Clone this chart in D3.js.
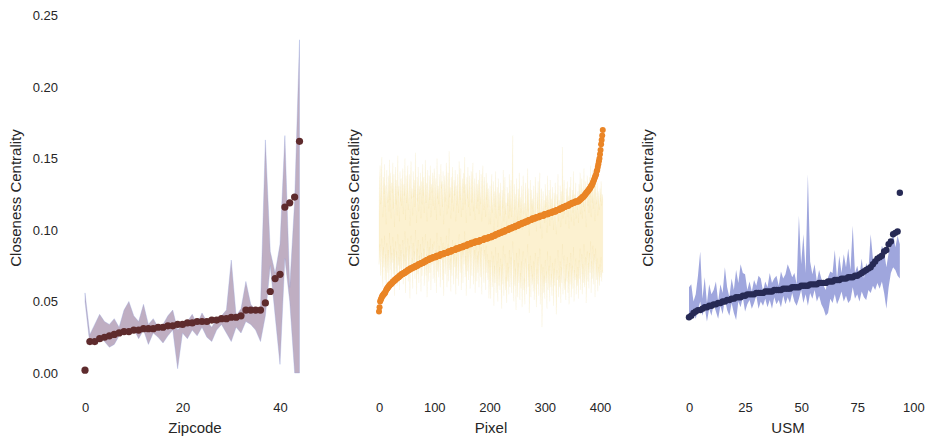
<!DOCTYPE html>
<html>
<head>
<meta charset="utf-8">
<script src="https://cdn.jsdelivr.net/npm/d3@7"></script>
<style>
  body { margin: 0; background: #ffffff; }
  svg text { font-family: "Liberation Sans", Arial, Helvetica, sans-serif; }
</style>
</head>
<body>
<svg id="chart" width="925" height="444"></svg>
<script>
// ---- shared axis ----
const yTicks = [0, 0.05, 0.10, 0.15, 0.20, 0.25];
const yLabel = "Closeness Centrality";

// ---- Zipcode ----
const zipTicks = [0, 20, 40];
const zipValues = [0.002, 0.022, 0.022, 0.024, 0.025, 0.026, 0.027, 0.028, 0.029, 0.029,
  0.030, 0.030, 0.031, 0.031, 0.031, 0.032, 0.032, 0.033, 0.033, 0.034,
  0.034, 0.035, 0.035, 0.036, 0.036, 0.036, 0.037, 0.037, 0.038, 0.038,
  0.039, 0.039, 0.040, 0.044, 0.044, 0.044, 0.044, 0.049, 0.057, 0.066,
  0.069, 0.116, 0.119, 0.123, 0.162];
const zipLow = [0.050, 0.020, 0.024, 0.026, 0.022, 0.018, 0.020, 0.026, 0.030, 0.028,
  0.031, 0.024, 0.030, 0.020, 0.028, 0.025, 0.021, 0.026, 0.030, 0.003,
  0.028, 0.024, 0.030, 0.026, 0.032, 0.025, 0.022, 0.030, 0.034, 0.028,
  0.022, 0.032, 0.028, 0.036, 0.034, 0.030, 0.022, 0.040, 0.075, 0.040,
  0.006, 0.080, 0.050, 0.000, 0.000];
const zipHigh = [0.056, 0.027, 0.034, 0.041, 0.036, 0.034, 0.038, 0.032, 0.044, 0.050,
  0.040, 0.036, 0.048, 0.034, 0.038, 0.032, 0.034, 0.040, 0.044, 0.030,
  0.034, 0.036, 0.041, 0.034, 0.042, 0.036, 0.032, 0.038, 0.040, 0.044,
  0.079, 0.040, 0.045, 0.064, 0.048, 0.044, 0.046, 0.163, 0.085, 0.070,
  0.090, 0.166, 0.060, 0.120, 0.233];

// ---- Pixel ----
const pixelTicks = [0, 100, 200, 300, 400];
const pixelValues = [
  0.043, 0.046, 0.050, 0.051, 0.052, 0.053, 0.054, 0.054, 0.055, 0.055, 0.056, 0.056, 0.057, 0.058, 0.059, 0.059, 0.060, 0.060, 0.061, 0.061,
  0.062, 0.062, 0.062, 0.063, 0.063, 0.064, 0.064, 0.064, 0.065, 0.065, 0.065, 0.066, 0.066, 0.066, 0.067, 0.067, 0.067, 0.068, 0.068, 0.068,
  0.069, 0.069, 0.069, 0.069, 0.070, 0.070, 0.070, 0.070, 0.071, 0.071, 0.071, 0.071, 0.072, 0.072, 0.072, 0.072, 0.073, 0.073, 0.073, 0.073,
  0.073, 0.074, 0.074, 0.074, 0.074, 0.074, 0.075, 0.075, 0.075, 0.075, 0.075, 0.076, 0.076, 0.076, 0.076, 0.076, 0.077, 0.077, 0.077, 0.077,
  0.077, 0.078, 0.078, 0.078, 0.078, 0.078, 0.079, 0.079, 0.079, 0.079, 0.079, 0.080, 0.080, 0.080, 0.080, 0.080, 0.080, 0.081, 0.081, 0.081,
  0.081, 0.081, 0.081, 0.081, 0.082, 0.082, 0.082, 0.082, 0.082, 0.082, 0.082, 0.083, 0.083, 0.083, 0.083, 0.083, 0.083, 0.083, 0.084, 0.084,
  0.084, 0.084, 0.084, 0.084, 0.084, 0.085, 0.085, 0.085, 0.085, 0.085, 0.085, 0.085, 0.086, 0.086, 0.086, 0.086, 0.086, 0.086, 0.086, 0.087,
  0.087, 0.087, 0.087, 0.087, 0.087, 0.087, 0.088, 0.088, 0.088, 0.088, 0.088, 0.088, 0.088, 0.089, 0.089, 0.089, 0.089, 0.089, 0.089, 0.089,
  0.090, 0.090, 0.090, 0.090, 0.090, 0.090, 0.090, 0.091, 0.091, 0.091, 0.091, 0.091, 0.091, 0.091, 0.092, 0.092, 0.092, 0.092, 0.092, 0.092,
  0.092, 0.092, 0.092, 0.093, 0.093, 0.093, 0.093, 0.093, 0.093, 0.093, 0.094, 0.094, 0.094, 0.094, 0.094, 0.094, 0.094, 0.094, 0.095, 0.095,
  0.095, 0.095, 0.095, 0.095, 0.095, 0.096, 0.096, 0.096, 0.096, 0.096, 0.096, 0.097, 0.097, 0.097, 0.097, 0.097, 0.097, 0.098, 0.098, 0.098,
  0.098, 0.098, 0.098, 0.099, 0.099, 0.099, 0.099, 0.099, 0.099, 0.100, 0.100, 0.100, 0.100, 0.100, 0.100, 0.101, 0.101, 0.101, 0.101, 0.101,
  0.101, 0.102, 0.102, 0.102, 0.102, 0.102, 0.102, 0.103, 0.103, 0.103, 0.103, 0.103, 0.103, 0.104, 0.104, 0.104, 0.104, 0.104, 0.104, 0.105,
  0.105, 0.105, 0.105, 0.105, 0.105, 0.106, 0.106, 0.106, 0.106, 0.106, 0.106, 0.107, 0.107, 0.107, 0.107, 0.107, 0.107, 0.108, 0.108, 0.108,
  0.108, 0.108, 0.108, 0.108, 0.109, 0.109, 0.109, 0.109, 0.109, 0.109, 0.109, 0.110, 0.110, 0.110, 0.110, 0.110, 0.110, 0.110, 0.110, 0.111,
  0.111, 0.111, 0.111, 0.111, 0.111, 0.111, 0.111, 0.112, 0.112, 0.112, 0.112, 0.112, 0.112, 0.112, 0.113, 0.113, 0.113, 0.113, 0.113, 0.113,
  0.113, 0.114, 0.114, 0.114, 0.114, 0.114, 0.114, 0.115, 0.115, 0.115, 0.115, 0.115, 0.115, 0.116, 0.116, 0.116, 0.116, 0.116, 0.117, 0.117,
  0.117, 0.117, 0.117, 0.117, 0.118, 0.118, 0.118, 0.118, 0.118, 0.119, 0.119, 0.119, 0.119, 0.119, 0.119, 0.120, 0.120, 0.120, 0.120, 0.120,
  0.120, 0.120, 0.121, 0.121, 0.121, 0.122, 0.122, 0.122, 0.123, 0.123, 0.123, 0.124, 0.124, 0.125, 0.125, 0.126, 0.126, 0.127, 0.127, 0.128,
  0.128, 0.129, 0.129, 0.130, 0.131, 0.131, 0.132, 0.133, 0.134, 0.135, 0.136, 0.137, 0.138, 0.139, 0.141, 0.142, 0.144, 0.146, 0.148, 0.150,
  0.153, 0.156, 0.160, 0.163, 0.166, 0.170];
const pixelLow = [
  0.076, 0.082, 0.090, 0.068, 0.079, 0.094, 0.071, 0.060, 0.088, 0.074, 0.096, 0.065, 0.083, 0.057, 0.091, 0.078, 0.070, 0.086, 0.062, 0.098,
  0.072, 0.089, 0.063, 0.084, 0.077, 0.095, 0.069, 0.087, 0.054, 0.080, 0.092, 0.066, 0.085, 0.061, 0.097, 0.075, 0.081, 0.058, 0.090, 0.073,
  0.086, 0.067, 0.078, 0.093, 0.062, 0.083, 0.074, 0.099, 0.056, 0.088, 0.070, 0.081, 0.094, 0.064, 0.076, 0.089, 0.052, 0.084, 0.096, 0.071,
  0.080, 0.059, 0.091, 0.073, 0.085, 0.066, 0.100, 0.077, 0.055, 0.087, 0.069, 0.093, 0.063, 0.082, 0.075, 0.090, 0.057, 0.084, 0.068, 0.095,
  0.074, 0.087, 0.061, 0.080, 0.097, 0.068, 0.083, 0.053, 0.092, 0.077, 0.064, 0.088, 0.070, 0.094, 0.058, 0.082, 0.076, 0.090, 0.066, 0.085,
  0.092, 0.063, 0.078, 0.086, 0.056, 0.098, 0.071, 0.081, 0.067, 0.089, 0.075, 0.060, 0.095, 0.079, 0.084, 0.065, 0.091, 0.054, 0.077, 0.088,
  0.069, 0.083, 0.096, 0.060, 0.076, 0.090, 0.064, 0.101, 0.072, 0.080, 0.057, 0.087, 0.068, 0.093, 0.078, 0.062, 0.085, 0.074, 0.091, 0.055,
  0.081, 0.066, 0.089, 0.075, 0.061, 0.097, 0.084, 0.070, 0.092, 0.058, 0.079, 0.086, 0.063, 0.090, 0.076, 0.099, 0.067, 0.082, 0.054, 0.087,
  0.071, 0.093, 0.065, 0.080, 0.088, 0.059, 0.077, 0.090, 0.068, 0.083, 0.095, 0.062, 0.073, 0.086, 0.056, 0.078, 0.089, 0.064, 0.082, 0.070,
  0.085, 0.060, 0.091, 0.076, 0.067, 0.088, 0.055, 0.081, 0.094, 0.072, 0.063, 0.086, 0.078, 0.058, 0.089, 0.070, 0.083, 0.065, 0.079, 0.052,
  0.066, 0.079, 0.052, 0.073, 0.085, 0.060, 0.069, 0.082, 0.047, 0.075, 0.063, 0.088, 0.056, 0.071, 0.078, 0.050, 0.084, 0.061, 0.074, 0.058,
  0.080, 0.068, 0.045, 0.076, 0.062, 0.089, 0.054, 0.072, 0.083, 0.058, 0.067, 0.049, 0.077, 0.064, 0.074, 0.055, 0.086, 0.060, 0.070, 0.081,
  0.056, 0.075, 0.092, 0.065, 0.050, 0.079, 0.061, 0.073, 0.044, 0.084, 0.067, 0.053, 0.077, 0.063, 0.087, 0.051, 0.070, 0.059, 0.078, 0.046,
  0.071, 0.085, 0.058, 0.066, 0.048, 0.080, 0.073, 0.055, 0.068, 0.090, 0.060, 0.076, 0.042, 0.064, 0.082, 0.053, 0.075, 0.062, 0.069, 0.057,
  0.078, 0.051, 0.067, 0.084, 0.059, 0.046, 0.073, 0.062, 0.081, 0.054, 0.070, 0.087, 0.048, 0.065, 0.076, 0.032, 0.061, 0.074, 0.056, 0.068,
  0.052, 0.079, 0.063, 0.071, 0.045, 0.085, 0.058, 0.066, 0.075, 0.050, 0.082, 0.060, 0.069, 0.054, 0.077, 0.064, 0.047, 0.073, 0.061, 0.080,
  0.057, 0.041, 0.072, 0.065, 0.086, 0.053, 0.068, 0.060, 0.078, 0.049, 0.074, 0.063, 0.090, 0.055, 0.070, 0.082, 0.058, 0.066, 0.051, 0.076,
  0.064, 0.081, 0.056, 0.071, 0.048, 0.077, 0.062, 0.084, 0.053, 0.067, 0.075, 0.059, 0.088, 0.050, 0.072, 0.065, 0.080, 0.055, 0.069, 0.061,
  0.074, 0.052, 0.079, 0.066, 0.087, 0.058, 0.071, 0.083, 0.055, 0.076, 0.063, 0.090, 0.060, 0.068, 0.081, 0.049, 0.073, 0.085, 0.064, 0.077,
  0.059, 0.084, 0.070, 0.092, 0.056, 0.078, 0.066, 0.089, 0.062, 0.075, 0.083, 0.053, 0.087, 0.071, 0.065, 0.080, 0.057, 0.074, 0.068, 0.061,
  0.076, 0.067, 0.081, 0.064, 0.072, 0.070];
const pixelHigh = [
  0.112, 0.134, 0.145, 0.118, 0.128, 0.151, 0.122, 0.109, 0.137, 0.125, 0.146, 0.116, 0.131, 0.104, 0.142, 0.127, 0.119, 0.138, 0.113, 0.149,
  0.121, 0.140, 0.108, 0.133, 0.126, 0.147, 0.115, 0.139, 0.102, 0.129, 0.144, 0.118, 0.135, 0.110, 0.152, 0.124, 0.131, 0.106, 0.141, 0.120,
  0.136, 0.117, 0.128, 0.143, 0.111, 0.132, 0.124, 0.150, 0.107, 0.138, 0.119, 0.130, 0.145, 0.114, 0.126, 0.139, 0.103, 0.133, 0.148, 0.122,
  0.129, 0.110, 0.141, 0.123, 0.135, 0.116, 0.154, 0.127, 0.105, 0.137, 0.120, 0.144, 0.113, 0.131, 0.125, 0.140, 0.108, 0.134, 0.118, 0.146,
  0.124, 0.137, 0.112, 0.130, 0.149, 0.119, 0.133, 0.106, 0.142, 0.127, 0.115, 0.138, 0.121, 0.145, 0.109, 0.132, 0.126, 0.140, 0.117, 0.135,
  0.143, 0.114, 0.128, 0.136, 0.107, 0.150, 0.122, 0.131, 0.118, 0.139, 0.125, 0.110, 0.146, 0.129, 0.134, 0.116, 0.141, 0.104, 0.127, 0.138,
  0.120, 0.133, 0.147, 0.111, 0.126, 0.140, 0.115, 0.155, 0.123, 0.130, 0.108, 0.137, 0.119, 0.144, 0.128, 0.113, 0.135, 0.124, 0.142, 0.106,
  0.131, 0.117, 0.139, 0.125, 0.112, 0.148, 0.134, 0.121, 0.143, 0.109, 0.129, 0.136, 0.114, 0.140, 0.126, 0.151, 0.118, 0.132, 0.105, 0.137,
  0.122, 0.144, 0.116, 0.130, 0.138, 0.110, 0.127, 0.141, 0.119, 0.134, 0.147, 0.113, 0.124, 0.136, 0.107, 0.128, 0.140, 0.115, 0.132, 0.120,
  0.135, 0.111, 0.142, 0.126, 0.118, 0.139, 0.106, 0.131, 0.145, 0.123, 0.114, 0.137, 0.128, 0.109, 0.140, 0.121, 0.133, 0.116, 0.129, 0.104,
  0.118, 0.131, 0.104, 0.125, 0.139, 0.112, 0.120, 0.134, 0.099, 0.127, 0.116, 0.141, 0.108, 0.123, 0.130, 0.102, 0.136, 0.114, 0.126, 0.110,
  0.133, 0.121, 0.097, 0.128, 0.115, 0.142, 0.106, 0.124, 0.137, 0.111, 0.119, 0.101, 0.130, 0.117, 0.126, 0.108, 0.139, 0.113, 0.122, 0.135,
  0.109, 0.127, 0.166, 0.118, 0.103, 0.132, 0.114, 0.125, 0.098, 0.136, 0.120, 0.107, 0.129, 0.116, 0.140, 0.105, 0.123, 0.112, 0.131, 0.100,
  0.124, 0.138, 0.111, 0.119, 0.102, 0.133, 0.126, 0.108, 0.121, 0.143, 0.113, 0.129, 0.096, 0.117, 0.135, 0.106, 0.128, 0.115, 0.122, 0.110,
  0.131, 0.104, 0.120, 0.137, 0.112, 0.099, 0.126, 0.115, 0.134, 0.107, 0.123, 0.140, 0.101, 0.118, 0.129, 0.094, 0.114, 0.127, 0.109, 0.121,
  0.105, 0.132, 0.116, 0.124, 0.098, 0.138, 0.111, 0.119, 0.128, 0.103, 0.135, 0.113, 0.122, 0.107, 0.130, 0.117, 0.100, 0.126, 0.114, 0.133,
  0.110, 0.097, 0.125, 0.118, 0.139, 0.106, 0.121, 0.113, 0.131, 0.102, 0.127, 0.116, 0.158, 0.108, 0.123, 0.135, 0.111, 0.119, 0.104, 0.129,
  0.117, 0.134, 0.109, 0.124, 0.101, 0.130, 0.115, 0.137, 0.106, 0.120, 0.128, 0.112, 0.141, 0.103, 0.125, 0.118, 0.133, 0.108, 0.122, 0.114,
  0.127, 0.105, 0.132, 0.119, 0.140, 0.111, 0.124, 0.136, 0.108, 0.129, 0.116, 0.143, 0.113, 0.121, 0.134, 0.102, 0.126, 0.138, 0.117, 0.130,
  0.112, 0.137, 0.123, 0.145, 0.109, 0.131, 0.119, 0.142, 0.115, 0.128, 0.136, 0.106, 0.140, 0.124, 0.118, 0.133, 0.110, 0.127, 0.121, 0.114,
  0.129, 0.120, 0.134, 0.117, 0.125, 0.122];

// ---- USM ----
const usmTicks = [0, 25, 50, 75, 100];
const usmValues = [0.039, 0.040, 0.042, 0.043, 0.044, 0.044, 0.045, 0.046, 0.046, 0.047,
  0.047, 0.048, 0.048, 0.049, 0.049, 0.050, 0.050, 0.051, 0.051, 0.052,
  0.052, 0.053, 0.053, 0.053, 0.054, 0.054, 0.055, 0.055, 0.055, 0.055,
  0.056, 0.056, 0.056, 0.056, 0.057, 0.057, 0.057, 0.057, 0.058, 0.058,
  0.058, 0.058, 0.059, 0.059, 0.059, 0.059, 0.060, 0.060, 0.060, 0.060,
  0.061, 0.061, 0.061, 0.061, 0.062, 0.062, 0.062, 0.062, 0.063, 0.063,
  0.063, 0.063, 0.064, 0.064, 0.064, 0.065, 0.065, 0.065, 0.066, 0.066,
  0.066, 0.067, 0.067, 0.067, 0.068, 0.068, 0.069, 0.070, 0.071, 0.072,
  0.073, 0.074, 0.076, 0.078, 0.080, 0.081, 0.082, 0.085, 0.086, 0.090,
  0.092, 0.097, 0.098, 0.099, 0.126];
const usmLow = [0.037, 0.040, 0.042, 0.038, 0.044, 0.050, 0.040, 0.046, 0.036, 0.045,
  0.040, 0.048, 0.043, 0.038, 0.047, 0.041, 0.052, 0.044, 0.040, 0.049,
  0.042, 0.037, 0.050, 0.046, 0.053, 0.043, 0.048, 0.051, 0.045, 0.049,
  0.054, 0.045, 0.050, 0.047, 0.052, 0.046, 0.051, 0.045, 0.053, 0.048,
  0.051, 0.046, 0.054, 0.048, 0.053, 0.049, 0.056, 0.050, 0.047, 0.052,
  0.058, 0.049, 0.055, 0.047, 0.056, 0.052, 0.058, 0.050, 0.054, 0.048,
  0.045, 0.040, 0.042, 0.052, 0.049, 0.055, 0.048, 0.052, 0.057, 0.050,
  0.054, 0.049, 0.051, 0.060, 0.052, 0.055, 0.050, 0.057, 0.053, 0.051,
  0.058, 0.056, 0.061, 0.058, 0.063, 0.059, 0.064, 0.056, 0.045, 0.060,
  0.070, 0.074, 0.072, 0.068, 0.066];
const usmHigh = [0.060, 0.062, 0.050, 0.055, 0.068, 0.085, 0.052, 0.067, 0.049, 0.062,
  0.055, 0.058, 0.064, 0.050, 0.062, 0.056, 0.074, 0.060, 0.053, 0.066,
  0.058, 0.072, 0.063, 0.076, 0.070, 0.069, 0.058, 0.064, 0.057, 0.065,
  0.061, 0.068, 0.066, 0.057, 0.064, 0.060, 0.070, 0.063, 0.066, 0.068,
  0.061, 0.071, 0.066, 0.069, 0.076, 0.072, 0.067, 0.070, 0.062, 0.110,
  0.076, 0.097, 0.070, 0.139, 0.078, 0.069, 0.076, 0.064, 0.072, 0.066,
  0.061, 0.058, 0.067, 0.071, 0.070, 0.086, 0.066, 0.082, 0.070, 0.083,
  0.074, 0.087, 0.072, 0.103, 0.070, 0.075, 0.068, 0.080, 0.066, 0.077,
  0.072, 0.097, 0.080, 0.075, 0.082, 0.078, 0.089, 0.085, 0.074, 0.084,
  0.090, 0.098, 0.088, 0.096, 0.090];

// ---- layout ----
const svg = d3.select("#chart");
const y = d3.scaleLinear().domain([0, 0.25]).range([373, 15.5]);

const panels = [
  { title: "Zipcode", values: zipValues, low: zipLow, high: zipHigh, ticks: zipTicks,
    dom: [0, 40], rng: [85, 280], labelX: 195, yLabelX: 16, showY: true,
    band: "#a48ca8", bandOpacity: 0.7, edge: "#93a3dc", edgeWidth: 0.6, edgeOpacity: 0.55,
    dot: "#5e2b2d", r: 3.6 },
  { title: "Pixel", values: pixelValues, low: pixelLow, high: pixelHigh, ticks: pixelTicks,
    dom: [0, 400], rng: [379, 600], labelX: 491, yLabelX: 354, showY: false,
    band: "#f2c84a", bandOpacity: 0.26, edge: "#e3b43a", edgeWidth: 0.35, edgeOpacity: 0.16,
    dot: "#ea8526", r: 3 },
  { title: "USM", values: usmValues, low: usmLow, high: usmHigh, ticks: usmTicks,
    dom: [0, 100], rng: [689, 913.3], labelX: 788, yLabelX: 648, showY: false,
    band: "#7f88d2", bandOpacity: 0.75, edge: null, edgeWidth: 0, edgeOpacity: 0,
    dot: "#272a55", r: 3.2 }
];

panels.forEach(p => {
  const x = d3.scaleLinear().domain(p.dom).range(p.rng);
  const g = svg.append("g");

  // spread band
  const area = d3.area()
    .x((d, i) => x(i))
    .y0((d, i) => y(p.low[i]))
    .y1((d, i) => y(p.high[i]));
  g.append("path")
    .datum(p.values)
    .attr("d", area)
    .attr("fill", p.band)
    .attr("fill-opacity", p.bandOpacity)
    .attr("stroke", p.edge || "none")
    .attr("stroke-width", p.edgeWidth)
    .attr("stroke-opacity", p.edgeOpacity);

  // sorted centrality values
  g.selectAll("circle")
    .data(p.values)
    .join("circle")
    .attr("cx", (d, i) => x(i))
    .attr("cy", d => y(d))
    .attr("r", p.r)
    .attr("fill", p.dot);

  // x axis (no spine, no tick marks)
  const xAxis = g.append("g")
    .attr("transform", "translate(0,403)")
    .call(d3.axisBottom(x).tickValues(p.ticks).tickSize(0).tickPadding(0));
  xAxis.select(".domain").remove();
  xAxis.selectAll("text").attr("font-size", 13).attr("fill", "#262626")
    .style("font-family", '"Liberation Sans", Arial, sans-serif');

  g.append("text")
    .attr("x", p.labelX).attr("y", 433)
    .attr("text-anchor", "middle")
    .attr("font-size", 15).attr("fill", "#262626")
    .text(p.title);

  g.append("text")
    .attr("transform", `translate(${p.yLabelX + 5},198) rotate(-90)`)
    .attr("text-anchor", "middle")
    .attr("font-size", 15).attr("fill", "#262626")
    .text(yLabel);

  if (p.showY) {
    const yAxis = g.append("g")
      .attr("transform", "translate(58,0)")
      .call(d3.axisLeft(y).tickValues(yTicks).tickFormat(d3.format(".2f")).tickSize(0).tickPadding(0));
    yAxis.select(".domain").remove();
    yAxis.selectAll("text").attr("font-size", 13).attr("fill", "#262626")
      .style("font-family", '"Liberation Sans", Arial, sans-serif');
  }
});
</script>
</body>
</html>
